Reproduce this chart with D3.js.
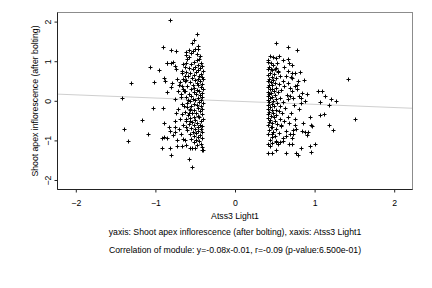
<!DOCTYPE html>
<html><head><meta charset="utf-8">
<script src="https://cdn.jsdelivr.net/npm/d3@7"></script>
<style>
body { margin: 0; background: #fff; }
svg text { font-family: "Liberation Sans", Arial, sans-serif; fill: #000; }
</style>
</head>
<body>
<svg id="chart" width="432" height="288"></svg>
<script>
// ticks and labels
const xTicks = [-2, -1, 0, 1, 2];
const yTicks = [-2, -1, 0, 1, 2];
const xLabel = "Atss3 Light1";
const yLabel = "Shoot apex inflorescence (after bolting)";
const caption1 = "yaxis: Shoot apex inflorescence (after bolting), xaxis: Atss3 Light1";
const caption2 = "Correlation of module: y=-0.08x-0.01, r=-0.09 (p-value:6.500e-01)";
const fitSlope = -0.08, fitIntercept = -0.01;

// left group of samples [x, y]
const groupLow = [
  [-0.82,2.04],[-0.475,1.69],[-0.52,1.54],[-0.545,1.45],[-0.90,1.37],[-0.80,1.28],[-0.74,1.26],[-0.58,1.28],[-0.46,1.31],
  [-1.07,0.86],[-0.95,0.78],[-0.86,0.96],[-0.78,0.99],[-1.31,0.44],[-1.015,0.47],[-0.89,0.57],[-0.88,0.51],[-0.79,0.44],
  [-0.80,0.35],[-0.85,0.21],[-1.42,0.08],[-1.03,-0.19],[-0.91,-0.17],[-1.17,-0.49],[-0.89,-0.57],[-0.83,-0.66],[-0.76,-0.66],
  [-1.40,-0.72],[-1.09,-0.83],[-0.82,-0.77],[-0.755,-0.78],[-0.92,-0.94],[-0.89,-0.91],[-0.86,-0.94],[-0.78,-0.87],
  [-1.34,-1.02],[-0.92,-1.19],[-0.82,-1.19],[-0.805,-1.36],[-0.73,-1.15],[-0.67,-1.14],[-0.61,-1.12],[-0.57,-1.19],
  [-0.54,-1.19],[-0.42,-1.25],[-0.40,-1.25],[-0.58,-1.46],[-0.545,-1.67],[-0.73,-1.0],[-0.65,-0.97],
  [-0.85,0.95],[-0.80,0.95],[-0.755,0.89],[-0.74,0.80],[-0.65,0.93],[-0.63,0.85],[-0.67,0.76],[-0.63,0.63],[-0.65,0.55],
  [-0.61,0.52],[-0.69,0.47],[-0.67,0.38],[-0.65,0.30],[-0.63,0.25],[-0.68,0.17],[-0.61,1.23],
  [-0.47,1.38],[-0.50,1.32],[-0.55,1.20],[-0.48,1.17],[-0.44,1.12],[-0.58,1.10],[-0.53,1.25],[-0.60,1.05],[-0.62,1.15],
  [-0.45,1.05],[-0.48,1.02],[-0.52,0.98],[-0.43,0.95],[-0.55,0.93],[-0.47,0.90],[-0.41,0.88],[-0.50,0.86],[-0.58,0.84],
  [-0.44,0.82],[-0.53,0.80],[-0.46,0.77],[-0.40,0.75],[-0.61,0.74],[-0.49,0.72],[-0.56,0.70],[-0.43,0.68],[-0.51,0.66],
  [-0.45,0.63],[-0.59,0.62],[-0.42,0.60],[-0.54,0.58],[-0.47,0.56],[-0.40,0.54],[-0.50,0.52],[-0.63,0.50],[-0.44,0.49],
  [-0.57,0.47],[-0.48,0.45],[-0.41,0.43],[-0.53,0.41],[-0.46,0.39],[-0.60,0.37],[-0.43,0.35],[-0.51,0.33],[-0.55,0.31],
  [-0.40,0.29],[-0.48,0.27],[-0.64,0.26],[-0.45,0.24],[-0.52,0.22],[-0.42,0.20],[-0.58,0.18],[-0.49,0.16],[-0.44,0.14],
  [-0.55,0.12],[-0.41,0.10],[-0.62,0.09],[-0.47,0.07],[-0.53,0.05],[-0.43,0.03],[-0.50,0.01],[-0.57,-0.01],[-0.45,-0.03],
  [-0.40,-0.05],[-0.52,-0.07],[-0.66,-0.08],[-0.48,-0.10],[-0.43,-0.12],[-0.55,-0.14],[-0.60,-0.16],[-0.46,-0.18],
  [-0.41,-0.20],[-0.51,-0.22],[-0.57,-0.24],[-0.44,-0.26],[-0.63,-0.28],[-0.49,-0.30],[-0.54,-0.32],[-0.42,-0.34],
  [-0.59,-0.36],[-0.47,-0.38],[-0.52,-0.40],[-0.45,-0.42],[-0.56,-0.44],[-0.40,-0.46],[-0.50,-0.48],[-0.61,-0.50],
  [-0.43,-0.52],[-0.54,-0.54],[-0.48,-0.56],[-0.58,-0.58],[-0.44,-0.60],[-0.52,-0.62],[-0.41,-0.64],[-0.47,-0.66],
  [-0.55,-0.68],[-0.50,-0.70],[-0.43,-0.72],[-0.60,-0.74],[-0.46,-0.76],[-0.53,-0.78],[-0.41,-0.80],[-0.49,-0.82],
  [-0.57,-0.84],[-0.44,-0.86],[-0.51,-0.88],[-0.47,-0.91],[-0.42,-0.94],[-0.55,-0.96],[-0.49,-0.99],[-0.45,-1.02],
  [-0.52,-1.05],[-0.43,-1.08],[-0.48,-1.12],[-0.41,-1.16],[-0.50,-1.18],
  [-0.62,0.95],[-0.66,0.70],[-0.70,0.40],[-0.68,0.10],[-0.72,-0.20],[-0.69,-0.45],[-0.74,-0.30],[-0.71,0.25],[-0.76,0.05],
  [-0.65,-0.60],[-0.68,-0.85],[-0.63,-1.0],[-0.70,-0.70],[-0.73,0.55],[-0.67,-0.33],[-0.75,-0.50],
  [-0.60,-0.05],[-0.58,-0.30],[-0.62,-0.45],[-0.56,-0.20],[-0.64,-0.12],[-0.59,0.02],[-0.61,-0.66],[-0.57,-0.52]
];

// right group of samples [x, y]
const groupHigh = [
  [0.52,1.47],[0.66,1.36],[0.78,1.28],[0.44,1.13],[0.48,1.11],[0.52,1.09],[0.66,1.05],[0.42,0.98],[0.53,0.96],[0.72,0.90],
  [0.455,0.80],[0.50,0.81],[0.54,0.75],[0.67,0.75],[0.72,0.71],[0.75,0.69],[0.82,0.73],[0.645,0.63],[0.71,0.58],
  [0.79,0.50],[0.87,0.52],[1.42,0.54],[0.69,0.33],[0.76,0.37],[0.78,0.30],[0.91,0.16],[1.04,0.25],[1.09,0.25],[1.13,0.12],
  [1.20,0.05],[1.27,-0.01],[1.18,-0.11],[1.065,-0.03],[0.69,0.12],[0.73,0.08],[0.81,0.12],[0.83,0.08],[0.88,-0.01],
  [0.83,-0.05],[0.94,-0.40],[1.065,-0.36],[1.12,-0.34],[1.51,-0.45],[1.18,-0.62],[1.23,-0.74],[0.96,-0.62],[0.97,-0.64],
  [0.84,-0.77],[0.88,-0.78],[0.92,-0.80],[0.91,-0.87],[0.75,-0.62],[0.77,-0.70],[0.73,-0.74],[0.69,-0.83],[0.73,-0.84],
  [0.52,-1.04],[0.56,-1.04],[0.60,-1.01],[0.54,-1.08],[0.675,-1.08],[0.71,-1.10],[0.44,-1.15],[0.51,-1.23],[0.83,-1.19],
  [0.94,-1.15],[1.01,-1.08],[0.96,-1.29],[0.415,-1.32],[0.465,-1.32],[0.645,-1.33],[0.77,-1.32],[0.79,-1.36],
  [0.58,-0.62],[0.46,-0.66],[0.48,-0.78],[0.46,-0.83],
  [0.42,1.02],[0.45,0.95],[0.48,0.90],[0.43,0.86],[0.51,0.84],[0.41,0.80],[0.47,0.77],[0.54,0.74],[0.44,0.71],[0.49,0.68],
  [0.42,0.65],[0.57,0.63],[0.46,0.61],[0.52,0.58],[0.43,0.55],[0.48,0.53],[0.60,0.51],[0.41,0.49],[0.45,0.47],[0.50,0.45],
  [0.55,0.43],[0.43,0.41],[0.47,0.39],[0.62,0.37],[0.42,0.35],[0.52,0.33],[0.46,0.31],[0.44,0.29],[0.58,0.27],[0.49,0.25],
  [0.41,0.23],[0.54,0.21],[0.45,0.19],[0.43,0.17],[0.50,0.15],[0.65,0.14],[0.42,0.12],[0.47,0.10],[0.56,0.08],[0.44,0.06],
  [0.51,0.04],[0.41,0.02],[0.48,0.00],[0.60,-0.02],[0.43,-0.04],[0.53,-0.06],[0.46,-0.08],[0.42,-0.10],[0.57,-0.12],
  [0.49,-0.14],[0.44,-0.16],[0.63,-0.18],[0.41,-0.20],[0.51,-0.22],[0.47,-0.24],[0.55,-0.26],[0.43,-0.28],[0.48,-0.30],
  [0.59,-0.32],[0.42,-0.34],[0.52,-0.36],[0.45,-0.38],[0.66,-0.40],[0.49,-0.42],[0.41,-0.44],[0.56,-0.46],[0.44,-0.48],
  [0.50,-0.50],[0.62,-0.52],[0.43,-0.54],[0.47,-0.56],[0.53,-0.58],[0.41,-0.61],[0.58,-0.64],[0.45,-0.67],[0.51,-0.70],
  [0.43,-0.73],[0.64,-0.76],[0.48,-0.79],[0.55,-0.82],[0.42,-0.85],[0.50,-0.88],[0.46,-0.92],[0.60,-0.95],[0.44,-0.98],
  [0.52,-1.02],[0.47,-1.06],[0.42,-1.10],
  [0.68,0.95],[0.70,0.60],[0.66,0.45],[0.72,0.25],[0.67,0.05],[0.74,-0.10],[0.70,-0.30],[0.76,-0.45],[0.68,-0.55],
  [0.72,-0.95],[0.80,-0.20],[0.78,0.40],[0.84,0.20],[0.86,-0.55],[0.62,0.85],[0.64,-0.90],[0.60,1.02],[0.55,1.12]
];

const svg = d3.select("#chart");
const plotL = 57.5, plotR = 412.5, plotT = 12.5, plotB = 189.5;
const fontPx = "8.7px";

const x = d3.scaleLinear().domain([-2.23, 2.23]).range([plotL, plotR]);
const y = d3.scaleLinear().domain([-2.24, 2.23]).range([plotB, plotT]);

// fit line (under the points)
svg.append("line")
  .attr("x1", x(-2.23)).attr("y1", y(fitSlope * -2.23 + fitIntercept))
  .attr("x2", x(2.23)).attr("y2", y(fitSlope * 2.23 + fitIntercept))
  .attr("stroke", "#cfcfcf").attr("stroke-width", 1);

// frame
svg.append("rect")
  .attr("x", plotL).attr("y", plotT)
  .attr("width", plotR - plotL).attr("height", plotB - plotT)
  .attr("fill", "none").attr("stroke", "#8c8c8c").attr("stroke-width", 1);

let xAxis = svg.append("g")
  .attr("transform", "translate(0," + plotB + ")")
  .call(d3.axisBottom(x).tickValues(xTicks).tickSize(3).tickPadding(7).tickFormat(d3.format("d")));
let yAxis = svg.append("g")
  .attr("transform", "translate(" + plotL + ",0)")
  .call(d3.axisLeft(y).tickValues(yTicks).tickSize(3).tickPadding(3).tickFormat(d3.format("d")));

[xAxis, yAxis].forEach(a => {
  a.select(".domain").remove();
  a.selectAll("line").attr("stroke", "#222");
  a.selectAll("text").style("font-size", fontPx).attr("font-family", null).attr("fill", "#000");
});
// axis lines along left and bottom
svg.append("line").attr("x1", plotL).attr("x2", plotL).attr("y1", plotT).attr("y2", plotB).attr("stroke", "#222");
svg.append("line").attr("x1", plotL).attr("x2", plotR).attr("y1", plotB).attr("y2", plotB).attr("stroke", "#222");

// rotate y tick labels like the original
yAxis.selectAll(".tick text")
  .attr("x", null)
  .attr("text-anchor", "middle")
  .attr("transform", "translate(-10,0) rotate(-90)")
  .attr("dy", "0.35em");

// points as plus marks
const pts = groupLow.concat(groupHigh);
const s = 2;
svg.append("g").selectAll("path")
  .data(pts)
  .enter().append("path")
  .attr("d", d => {
    let px = Math.round(x(d[0])) + 0.5, py = Math.round(y(d[1])) + 0.5;
    return "M" + (px - s) + "," + py + "H" + (px + s) + "M" + px + "," + (py - s) + "V" + (py + s);
  })
  .attr("stroke", "#000").attr("stroke-width", 1).attr("fill", "none");

// labels
svg.append("text").attr("x", x(0)).attr("y", 219)
  .attr("text-anchor", "middle").style("font-size", fontPx).text(xLabel);
svg.append("text")
  .attr("transform", "translate(38," + ((plotT + plotB) / 2) + ") rotate(-90)")
  .attr("text-anchor", "middle").style("font-size", fontPx).text(yLabel);
svg.append("text").attr("x", x(0)).attr("y", 235)
  .attr("text-anchor", "middle").style("font-size", fontPx).text(caption1);
svg.append("text").attr("x", x(0)).attr("y", 253)
  .attr("text-anchor", "middle").style("font-size", fontPx).text(caption2);
</script>
</body></html>
